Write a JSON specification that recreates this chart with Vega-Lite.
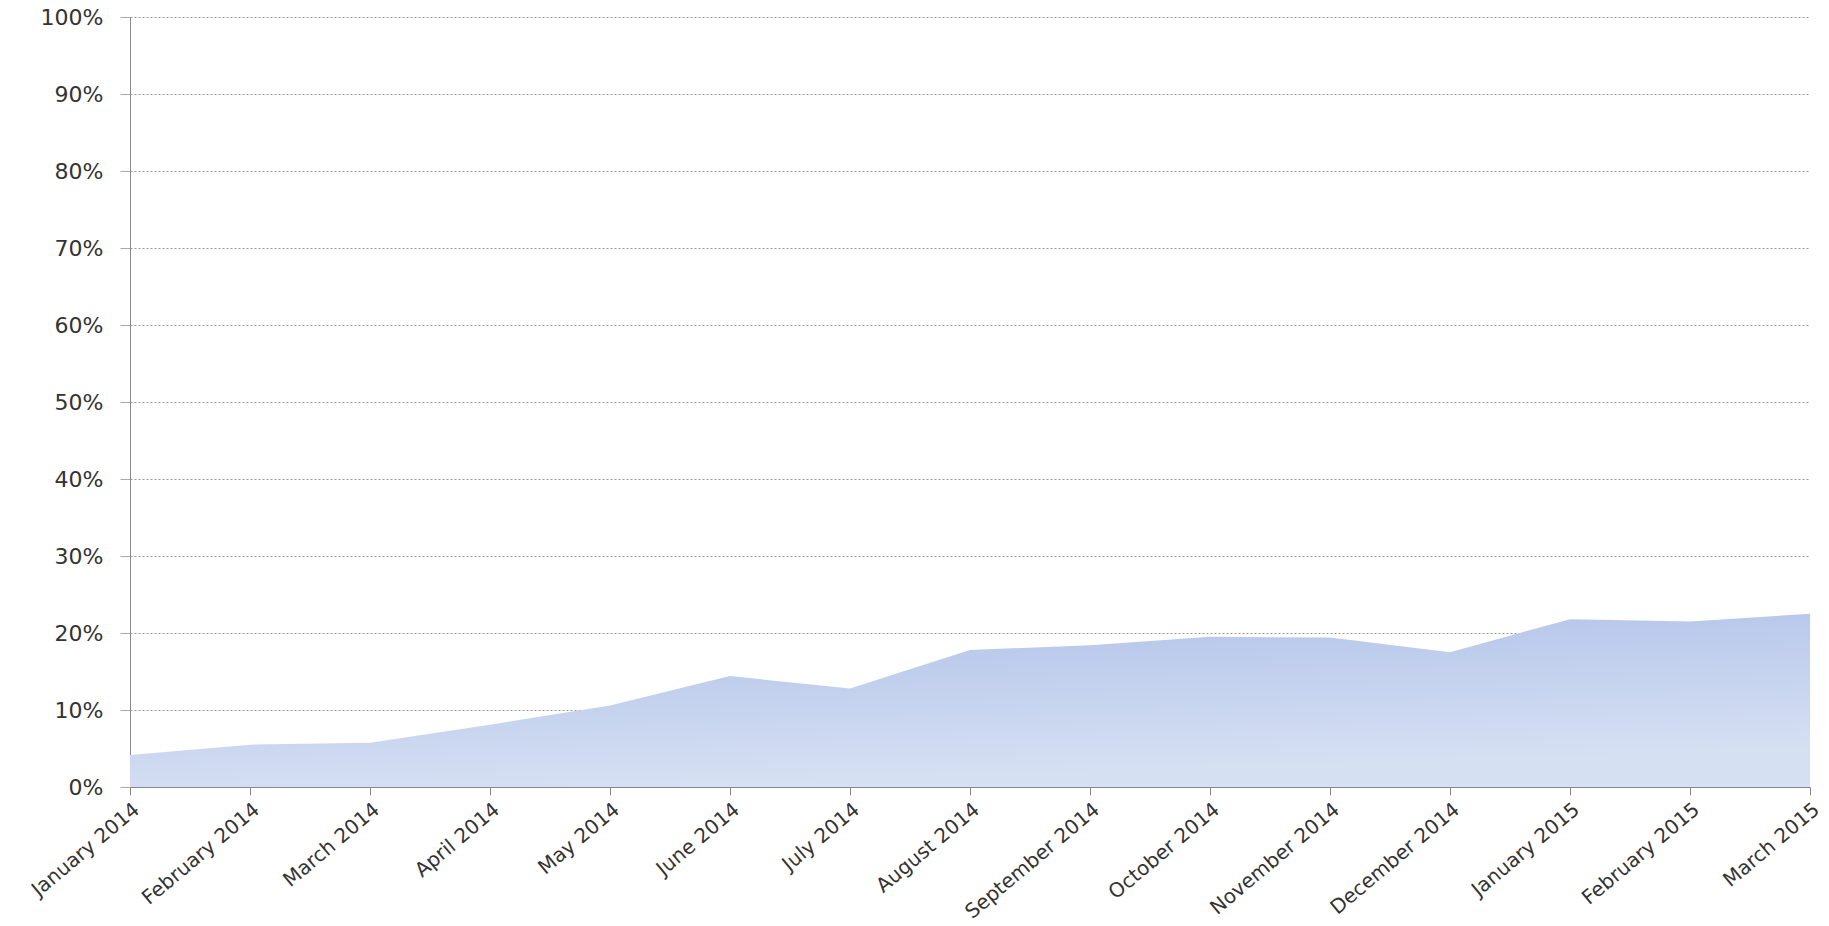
{
  "$schema": "https://vega.github.io/schema/vega-lite/v6.json",
  "width": 1680,
  "height": 770,
  "autosize": "none",
  "padding": {"left": 130, "top": 17, "right": 19, "bottom": 139},
  "background": "white",
  "config": {"view": {"stroke": null}},
  "data": {
    "values": [
      {"month": "January 2014", "share": 0.0415},
      {"month": "February 2014", "share": 0.055},
      {"month": "March 2014", "share": 0.0575},
      {"month": "April 2014", "share": 0.081},
      {"month": "May 2014", "share": 0.106},
      {"month": "June 2014", "share": 0.144},
      {"month": "July 2014", "share": 0.128},
      {"month": "August 2014", "share": 0.178},
      {"month": "September 2014", "share": 0.184},
      {"month": "October 2014", "share": 0.195},
      {"month": "November 2014", "share": 0.194},
      {"month": "December 2014", "share": 0.175},
      {"month": "January 2015", "share": 0.218},
      {"month": "February 2015", "share": 0.215},
      {"month": "March 2015", "share": 0.225}
    ]
  },
  "mark": {
    "type": "area",
    "color": {
      "gradient": "linear",
      "x1": 0, "y1": 0, "x2": 0.3, "y2": 1,
      "stops": [
        {"offset": 0, "color": "#aec0e8"},
        {"offset": 1, "color": "#d6e0f3"}
      ]
    }
  },
  "encoding": {
    "x": {
      "field": "month",
      "type": "ordinal",
      "sort": null,
      "scale": {"type": "point", "padding": 0},
      "axis": {
        "title": null,
        "labelAngle": -40,
        "labelFont": "DejaVu Sans",
        "labelFontSize": 20,
        "labelColor": "#333333",
        "labelPadding": 4,
        "labelOverlap": false,
        "labelBound": false,
        "domainColor": "#888888",
        "tickColor": "#888888",
        "tickSize": 8,
        "grid": false
      }
    },
    "y": {
      "field": "share",
      "type": "quantitative",
      "scale": {"domain": [0, 1]},
      "axis": {
        "title": null,
        "format": ".0%",
        "values": [0, 0.1, 0.2, 0.3, 0.4, 0.5, 0.6, 0.7, 0.8, 0.9, 1],
        "labelFont": "DejaVu Sans",
        "labelFontSize": 22,
        "labelColor": "#333333",
        "labelPadding": 17,
        "labelOverlap": false,
        "domainColor": "#888888",
        "tickColor": "#aaaaaa",
        "tickSize": 10,
        "gridColor": "#999999",
        "gridDash": [2, 2],
        "gridWidth": 1
      }
    }
  }
}
